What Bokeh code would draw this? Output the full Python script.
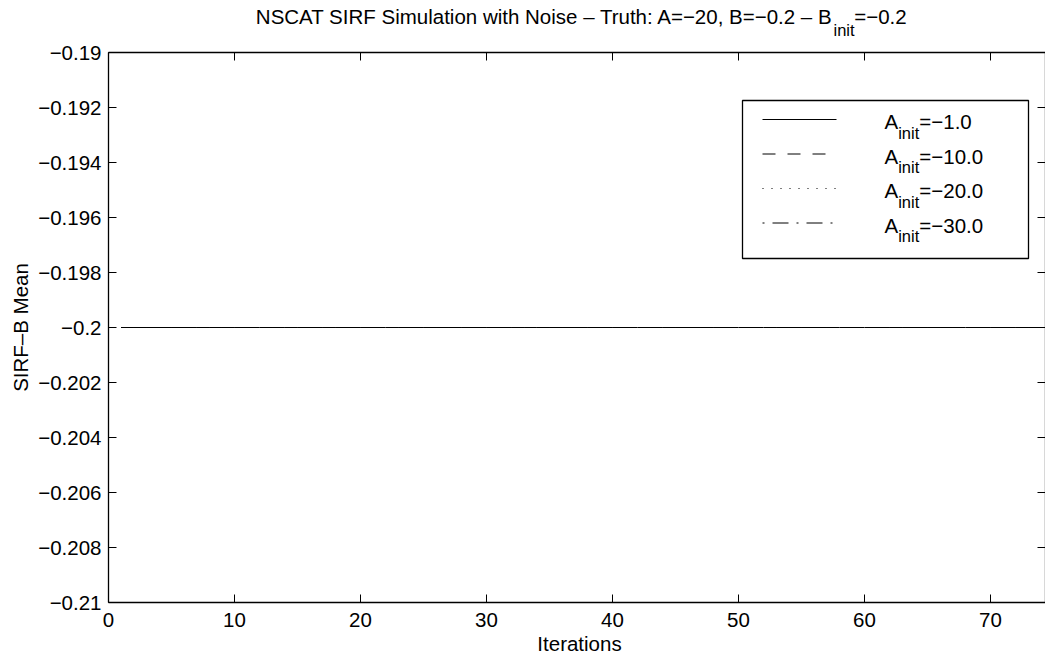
from math import pi
from bokeh.plotting import figure
from bokeh.models import Label, Arrow, BoxAnnotation, LinearAxis, FixedTicker, Range1d
from bokeh.embed import file_html
from bokeh.resources import INLINE

# ---------------- data ----------------
iterations = [1, 2, 3, 4, 5, 6, 7, 8, 9, 10, 11, 12, 13, 14, 15,
              16, 17, 18, 19, 20, 21, 22, 23, 24, 25, 26, 27, 28, 29, 30,
              31, 32, 33, 34, 35, 36, 37, 38, 39, 40, 41, 42, 43, 44, 45,
              46, 47, 48, 49, 50, 51, 52, 53, 54, 55, 56, 57, 58, 59, 60,
              61, 62, 63, 64, 65, 66, 67, 68, 69, 70, 71, 72, 73, 74, 75]

b_mean_a_init_1 = [-0.2, -0.2, -0.2, -0.2, -0.2, -0.2, -0.2, -0.2, -0.2, -0.2, -0.2, -0.2, -0.2, -0.2, -0.2,
                   -0.2, -0.2, -0.2, -0.2, -0.2, -0.2, -0.2, -0.2, -0.2, -0.2, -0.2, -0.2, -0.2, -0.2, -0.2,
                   -0.2, -0.2, -0.2, -0.2, -0.2, -0.2, -0.2, -0.2, -0.2, -0.2, -0.2, -0.2, -0.2, -0.2, -0.2,
                   -0.2, -0.2, -0.2, -0.2, -0.2, -0.2, -0.2, -0.2, -0.2, -0.2, -0.2, -0.2, -0.2, -0.2, -0.2,
                   -0.2, -0.2, -0.2, -0.2, -0.2, -0.2, -0.2, -0.2, -0.2, -0.2, -0.2, -0.2, -0.2, -0.2, -0.2]
b_mean_a_init_10 = [-0.2, -0.2, -0.2, -0.2, -0.2, -0.2, -0.2, -0.2, -0.2, -0.2, -0.2, -0.2, -0.2, -0.2, -0.2,
                    -0.2, -0.2, -0.2, -0.2, -0.2, -0.2, -0.2, -0.2, -0.2, -0.2, -0.2, -0.2, -0.2, -0.2, -0.2,
                    -0.2, -0.2, -0.2, -0.2, -0.2, -0.2, -0.2, -0.2, -0.2, -0.2, -0.2, -0.2, -0.2, -0.2, -0.2,
                    -0.2, -0.2, -0.2, -0.2, -0.2, -0.2, -0.2, -0.2, -0.2, -0.2, -0.2, -0.2, -0.2, -0.2, -0.2,
                    -0.2, -0.2, -0.2, -0.2, -0.2, -0.2, -0.2, -0.2, -0.2, -0.2, -0.2, -0.2, -0.2, -0.2, -0.2]
b_mean_a_init_20 = [-0.2, -0.2, -0.2, -0.2, -0.2, -0.2, -0.2, -0.2, -0.2, -0.2, -0.2, -0.2, -0.2, -0.2, -0.2,
                    -0.2, -0.2, -0.2, -0.2, -0.2, -0.2, -0.2, -0.2, -0.2, -0.2, -0.2, -0.2, -0.2, -0.2, -0.2,
                    -0.2, -0.2, -0.2, -0.2, -0.2, -0.2, -0.2, -0.2, -0.2, -0.2, -0.2, -0.2, -0.2, -0.2, -0.2,
                    -0.2, -0.2, -0.2, -0.2, -0.2, -0.2, -0.2, -0.2, -0.2, -0.2, -0.2, -0.2, -0.2, -0.2, -0.2,
                    -0.2, -0.2, -0.2, -0.2, -0.2, -0.2, -0.2, -0.2, -0.2, -0.2, -0.2, -0.2, -0.2, -0.2, -0.2]
b_mean_a_init_30 = [-0.2, -0.2, -0.2, -0.2, -0.2, -0.2, -0.2, -0.2, -0.2, -0.2, -0.2, -0.2, -0.2, -0.2, -0.2,
                    -0.2, -0.2, -0.2, -0.2, -0.2, -0.2, -0.2, -0.2, -0.2, -0.2, -0.2, -0.2, -0.2, -0.2, -0.2,
                    -0.2, -0.2, -0.2, -0.2, -0.2, -0.2, -0.2, -0.2, -0.2, -0.2, -0.2, -0.2, -0.2, -0.2, -0.2,
                    -0.2, -0.2, -0.2, -0.2, -0.2, -0.2, -0.2, -0.2, -0.2, -0.2, -0.2, -0.2, -0.2, -0.2, -0.2,
                    -0.2, -0.2, -0.2, -0.2, -0.2, -0.2, -0.2, -0.2, -0.2, -0.2, -0.2, -0.2, -0.2, -0.2, -0.2]

x_ticks = [0, 10, 20, 30, 40, 50, 60, 70]
x_tick_labels = ["0", "10", "20", "30", "40", "50", "60", "70"]
y_ticks = [-0.21, -0.208, -0.206, -0.204, -0.202, -0.2, -0.198, -0.196, -0.194, -0.192, -0.19]
y_tick_labels = ["\u22120.21", "\u22120.208", "\u22120.206", "\u22120.204", "\u22120.202", "\u22120.2",
                 "\u22120.198", "\u22120.196", "\u22120.194", "\u22120.192", "\u22120.19"]
x_lim = [0, 75]
y_lim = [-0.21, -0.19]
legend_values = ["=\u22121.0", "=\u221210.0", "=\u221220.0", "=\u221230.0"]

title_main = "NSCAT SIRF Simulation with Noise \u2013 Truth: A=\u221220, B=\u22120.2 \u2013 B"
title_sub = "init"
title_tail = "=\u22120.2"
x_label = "Iterations"
y_label = "SIRF\u2013B Mean"

# ---------------- layout (pixels of the 1045x658 canvas) ----------------
FONT = "Liberation Sans"
FS = "20.5px"
FS_SUB = "16.5px"
W, H = 1045, 658
AX_LEFT, AX_TOP, AX_BOTTOM = 108, 52, 602
PX_PER_X = 12.6
PX_PER_Y = (AX_BOTTOM - AX_TOP) / (y_lim[1] - y_lim[0])

x_start = x_lim[0] - AX_LEFT / PX_PER_X
x_end = x_lim[0] + (W - AX_LEFT) / PX_PER_X
y_start = y_lim[0] - (H - AX_BOTTOM) / PX_PER_Y
y_end = y_lim[1] + AX_TOP / PX_PER_Y


def sx(px):
    return px


def sy(py):
    return H - py


p = figure(width=W, height=H,
           x_range=Range1d(x_start, x_end), y_range=Range1d(y_start, y_end),
           x_axis_type=None, y_axis_type=None,
           output_backend="svg", toolbar_location=None, min_border=0)
p.outline_line_color = None
p.background_fill_color = "white"
p.border_fill_color = "white"


def make_axis(ticks, labels, show, standoff, loc, bounds):
    ax = LinearAxis(ticker=FixedTicker(ticks=ticks, minor_ticks=[]),
                    fixed_location=loc, bounds=bounds)
    ax.major_label_overrides = {t: (l if show else "") for t, l in zip(ticks, labels)}
    ax.axis_line_color = "black"
    ax.axis_line_width = 1.3
    ax.major_tick_line_color = "black"
    ax.major_tick_line_width = 1
    ax.major_tick_in = 8
    ax.major_tick_out = 0
    ax.minor_tick_line_color = None
    ax.major_label_text_font = FONT
    ax.major_label_text_font_size = FS
    ax.major_label_text_color = "black"
    ax.major_label_standoff = standoff
    return ax


p.add_layout(make_axis(x_ticks, x_tick_labels, True, 10, y_lim[0], (x_lim[0], x_lim[1])), "below")
p.add_layout(make_axis(x_ticks, x_tick_labels, False, 0, y_lim[1], (x_lim[0], x_lim[1])), "above")
p.add_layout(make_axis(y_ticks, y_tick_labels, True, 7, x_lim[0], (y_lim[0], y_lim[1])), "left")
p.add_layout(make_axis(y_ticks, y_tick_labels, False, 0, x_end, (y_lim[0], y_lim[1])), "right")

dashes = ["solid", "13 12", "1 8", "2 8 16 8"]
series = [b_mean_a_init_1, b_mean_a_init_10, b_mean_a_init_20, b_mean_a_init_30]
for ys, d in zip(series, dashes):
    p.line(iterations, ys, line_color="black", line_width=1, line_dash=d)

# ---------------- legend (drawn by hand for the subscripts) ----------------
p.add_layout(BoxAnnotation(left=sx(742), right=sx(1028), top=sy(100), bottom=sy(258),
                           left_units="screen", right_units="screen",
                           top_units="screen", bottom_units="screen",
                           fill_color="white", fill_alpha=1.0,
                           line_color="black", line_width=1.3, line_alpha=1.0))
rows = [119, 153.5, 188, 222.5]
for row, d, val in zip(rows, dashes, legend_values):
    p.add_layout(Arrow(x_start=sx(762), y_start=sy(row), x_end=sx(836), y_end=sy(row),
                       start_units="screen", end_units="screen", start=None, end=None,
                       line_color="black", line_width=1, line_dash=d))
    p.add_layout(Label(x=sx(884), y=sy(row + 2), x_units="screen", y_units="screen",
                       text="A", text_font=FONT, text_font_size=FS, text_color="black",
                       text_align="left", text_baseline="middle"))
    p.add_layout(Label(x=sx(897.7), y=sy(row + 13), x_units="screen", y_units="screen",
                       text="init", text_font=FONT, text_font_size=FS_SUB, text_color="black",
                       text_align="left", text_baseline="middle"))
    p.add_layout(Label(x=sx(918.8), y=sy(row + 2), x_units="screen", y_units="screen",
                       text=val, text_font=FONT, text_font_size=FS, text_color="black",
                       text_align="left", text_baseline="middle"))

# ---------------- title and axis labels ----------------
p.add_layout(Label(x=sx(833), y=sy(16), x_units="screen", y_units="screen",
                   text=title_main, text_font=FONT, text_font_size=FS, text_color="black",
                   text_align="right", text_baseline="middle"))
p.add_layout(Label(x=sx(833), y=sy(29), x_units="screen", y_units="screen",
                   text=title_sub, text_font=FONT, text_font_size=FS_SUB, text_color="black",
                   text_align="left", text_baseline="middle"))
p.add_layout(Label(x=sx(853.7), y=sy(16), x_units="screen", y_units="screen",
                   text=title_tail, text_font=FONT, text_font_size=FS, text_color="black",
                   text_align="left", text_baseline="middle"))
p.add_layout(Label(x=sx(579), y=sy(643), x_units="screen", y_units="screen",
                   text=x_label, text_font=FONT, text_font_size=FS, text_color="black",
                   text_align="center", text_baseline="middle"))
p.add_layout(Label(x=sx(20), y=sy(327), x_units="screen", y_units="screen",
                   text=y_label, text_font=FONT, text_font_size=FS, text_color="black",
                   angle=pi / 2, text_align="center", text_baseline="middle"))

open("out.html", "w").write(file_html(p, INLINE))
